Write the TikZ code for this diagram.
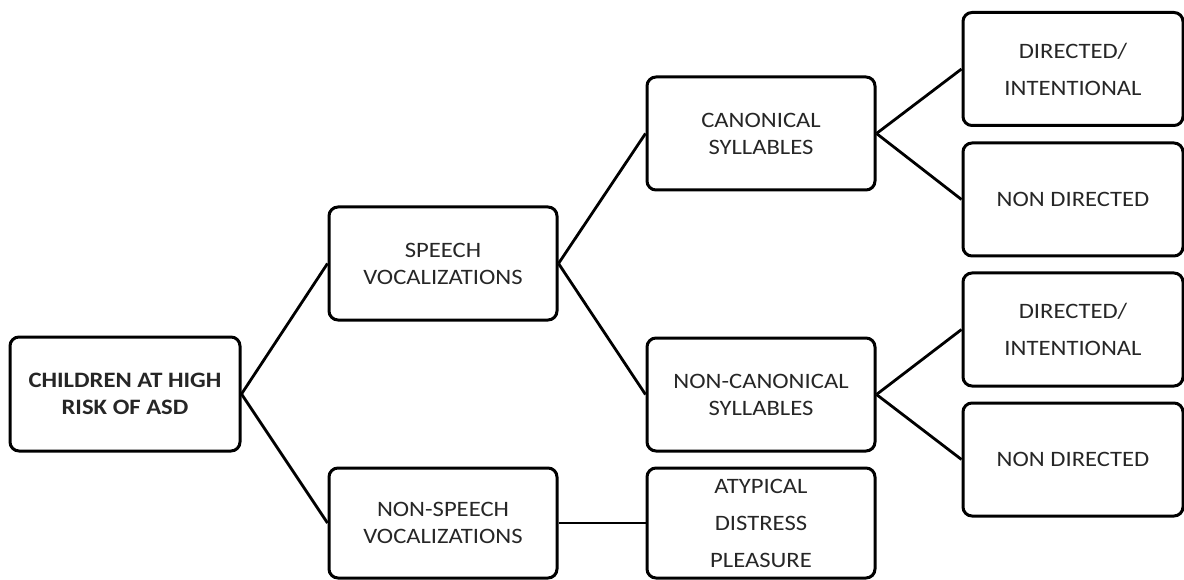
\documentclass[tikz,border=0pt]{standalone}
\usepackage{fontspec}
\setmainfont{Carlito}[FakeStretch=1.12]
\begin{document}
\begin{tikzpicture}[x=1pt,y=-1pt,
  box/.style={draw=black,line width=3pt,rounded corners=9pt,inner sep=0pt,
    align=center,text=black!85,font=\fontsize{22}{27}\selectfont},
  wide/.style={minimum width=228pt,minimum height=113pt},
  rbox/.style={minimum width=220pt,minimum height=113pt},
  tall/.style={font=\fontsize{22}{37}\selectfont},
  link/.style={draw=black,line width=2.8pt}]
\useasboundingbox (0,0) rectangle (1184,580);
\node[box,minimum width=230pt,minimum height=114pt,font=\bfseries\fontsize{22}{27}\selectfont] (root) at (125,394) {CHILDREN AT HIGH\\RISK OF ASD};
\node[box,wide] (speech) at (443,263.5) {SPEECH\\VOCALIZATIONS};
\node[box,wide,minimum height=110pt] (nonspeech) at (443,523) {NON-SPEECH\\VOCALIZATIONS};
\node[box,wide] (canon) at (761,133.5) {CANONICAL\\SYLLABLES};
\node[box,wide] (noncanon) at (761,394.5) {NON-CANONICAL\\SYLLABLES};
\node[box,wide,tall,minimum height=110pt] (atyp) at (761,523) {ATYPICAL\\DISTRESS\\PLEASURE};
\node[box,rbox,tall] (dirA) at (1073,69) {DIRECTED/\\INTENTIONAL};
\node[box,rbox] (nondirA) at (1073,199.5) {NON DIRECTED};
\node[box,rbox,tall] (dirB) at (1073,329.5) {DIRECTED/\\INTENTIONAL};
\node[box,rbox] (nondirB) at (1073,459.5) {NON DIRECTED};
\draw[link] (root.east) -- (speech.west);
\draw[link] (root.east) -- (nonspeech.west);
\draw[link] (speech.east) -- (canon.west);
\draw[link] (speech.east) -- (noncanon.west);
\draw[link] (nonspeech.east) -- (atyp.west);
\draw[link] (canon.east) -- (dirA.west);
\draw[link] (canon.east) -- (nondirA.west);
\draw[link] (noncanon.east) -- (dirB.west);
\draw[link] (noncanon.east) -- (nondirB.west);
\end{tikzpicture}
\end{document}
